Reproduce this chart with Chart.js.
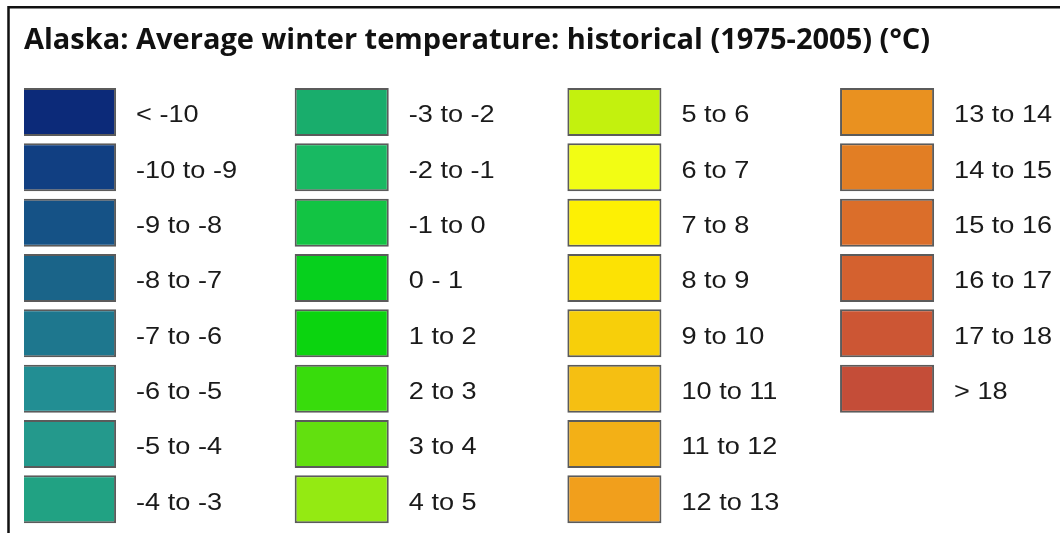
<!DOCTYPE html>
<html>
<head>
<meta charset="utf-8">
<script src="https://cdn.jsdelivr.net/npm/chart.js@4/dist/chart.umd.min.js"></script>
<style>
  html, body { margin: 0; padding: 0; background: #fff; }
  #wrap { position: relative; width: 1062px; height: 533px; }
</style>
</head>
<body>
<div id="wrap"><canvas id="legendChart"></canvas></div>
<script>
// legend bins, read top-to-bottom, column by column
const binLabels = [
    '< -10', '-10 to -9', '-9 to -8', '-8 to -7', '-7 to -6', '-6 to -5', '-5 to -4', '-4 to -3',
    '-3 to -2', '-2 to -1', '-1 to 0', '0 - 1', '1 to 2', '2 to 3', '3 to 4', '4 to 5',
    '5 to 6', '6 to 7', '7 to 8', '8 to 9', '9 to 10', '10 to 11', '11 to 12', '12 to 13',
    '13 to 14', '14 to 15', '15 to 16', '16 to 17', '17 to 18', '> 18'
];
const binColors = [
    '#0c2a79', '#113f82', '#155286', '#1a6489', '#1e778e', '#228e93', '#24998c', '#21a283',
    '#19ad6c', '#18b962', '#12c443', '#06d01d', '#0bd40f', '#38dc0c', '#62e00f', '#94ea12',
    '#c3f10e', '#f2fd14', '#fdf004', '#fce204', '#f7cf0a', '#f5bf12', '#f3b016', '#f19f1c',
    '#e99120', '#e27e24', '#db6e2a', '#d4612f', '#cc5634', '#c44d38'
];
const rowNames = ['r1', 'r2', 'r3', 'r4', 'r5', 'r6', 'r7', 'r8'];
const chartTitle = 'Alaska: Average winter temperature: historical (1975-2005) (°C)';

const ROWS = rowNames.length;
const SWATCH = 0.345; // swatch length in column units

// one dataset per legend column, floating bars [col, col + SWATCH]
const columns = [];
for (let i = 0; i < binLabels.length; i += ROWS) {
    const c = columns.length;
    const labels = binLabels.slice(i, i + ROWS);
    columns.push({
        data: labels.map(() => [c, c + SWATCH]),
        backgroundColor: binColors.slice(i, i + ROWS),
        binText: labels
    });
}

// white page + black frame on top / left
const framePlugin = {
    id: 'frame',
    beforeDraw(chart) {
        const ctx = chart.ctx;
        ctx.save();
        ctx.fillStyle = '#fff';
        ctx.fillRect(0, 0, chart.width, chart.height);
        ctx.restore();
    },
    afterDraw(chart) {
        const ctx = chart.ctx;
        ctx.save();
        ctx.strokeStyle = '#111';
        ctx.lineWidth = 2.5;
        ctx.beginPath();
        ctx.moveTo(8.5, chart.height);
        ctx.lineTo(8.5, 7.2);
        ctx.lineTo(chart.width - 2, 7.2);
        ctx.stroke();
        ctx.restore();
    }
};

// bin text next to each swatch
const binTextPlugin = {
    id: 'binText',
    afterDatasetsDraw(chart) {
        const ctx = chart.ctx;
        ctx.save();
        ctx.fillStyle = '#1a1a1a';
        ctx.font = '24px "Liberation Sans", Arial, sans-serif';
        ctx.textBaseline = 'alphabetic';
        chart.data.datasets.forEach((ds, di) => {
            const meta = chart.getDatasetMeta(di);
            meta.data.forEach((bar, i) => {
                const right = Math.max(bar.x, bar.base);
                ctx.save();
                ctx.translate(right + 20, bar.y + 10.5);
                ctx.scale(1.13, 1);
                ctx.fillText(ds.binText[i], 0, 0);
                ctx.restore();
            });
        });
        ctx.restore();
    }
};

new Chart(document.getElementById('legendChart'), {
    type: 'bar',
    data: {
        labels: rowNames,
        datasets: columns.map(col => ({
            data: col.data,
            backgroundColor: col.backgroundColor,
            binText: col.binText,
            borderColor: '#5b5b5b',
            borderWidth: 2,
            borderSkipped: false,
            grouped: false,
            categoryPercentage: 1,
            barPercentage: 0.868
        }))
    },
    options: {
        indexAxis: 'y',
        responsive: true,
        maintainAspectRatio: false,
        animation: false,
        layout: { padding: { top: 23, left: 24, right: 0, bottom: 6 } },
        scales: {
            x: { type: 'linear', min: 0.0073, max: 3.814, display: false },
            y: { display: false }
        },
        plugins: {
            legend: { display: false },
            tooltip: { enabled: false },
            title: {
                display: true,
                text: chartTitle,
                align: 'start',
                color: '#111',
                font: { family: '"Open Sans", sans-serif', size: 29, weight: 'bold', lineHeight: 1.2 },
                padding: { top: 0, bottom: 26.5 }
            }
        }
    },
    plugins: [framePlugin, binTextPlugin]
});
</script>
</body>
</html>
